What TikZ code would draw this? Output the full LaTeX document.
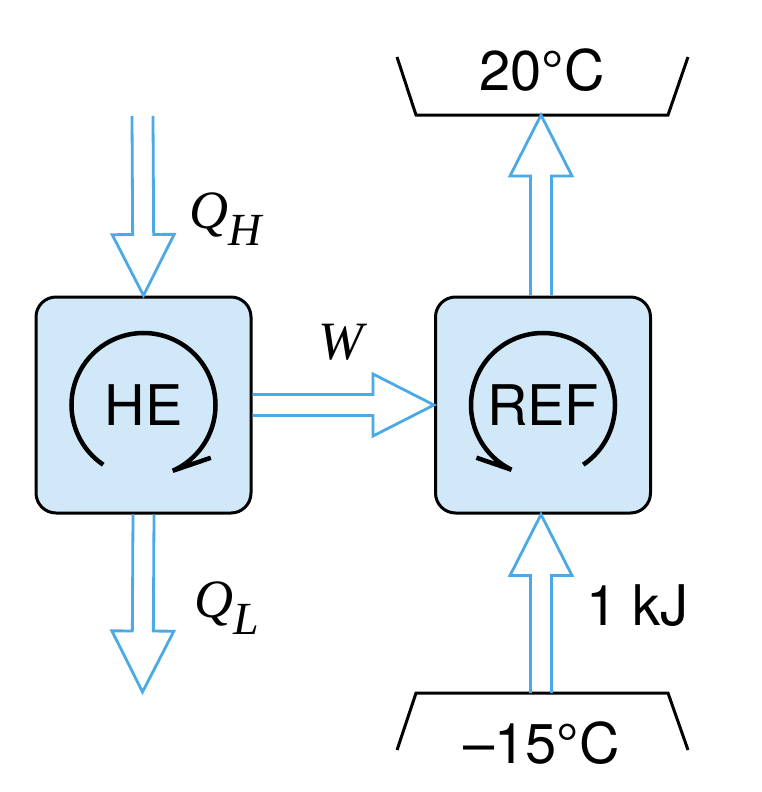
\documentclass[tikz,border=0pt]{standalone}
\usepackage{fontspec}
\setsansfont{TeX Gyre Heros}
\newfontfamily\labelserif{Liberation Serif}
\usepackage{xcolor}
\usetikzlibrary{positioning,calc}

\definecolor{heatblue}{RGB}{75,169,230}
\definecolor{boxfill}{RGB}{208,232,248}

\tikzset{
  device/.style={draw=black, line width=3pt, fill=boxfill, rounded corners=20pt,
    minimum width=215pt, minimum height=216pt, inner sep=0pt,
    font=\sffamily\fontsize{56}{56}\selectfont},
  heatline/.style={draw=heatblue, line width=2.8pt, miter limit=10},
  cycleline/.style={line width=4.5pt},
  reservoir/.style={line width=3pt},
  temp/.style={font=\sffamily\fontsize{56}{56}\selectfont, inner sep=0pt},
  qlabel/.style={font=\labelserif\itshape\fontsize{54}{54}\selectfont, inner sep=0pt}
}

% hollow block arrow from #1 (open tail) to #2 (tip)
\newcommand{\heatarrow}[2]{%
  \coordinate (hb) at ($(#2)!61pt!(#1)$);
  \draw[heatline] ($(#1)!10.5pt!90:(#2)$) -- ($(hb)!10.5pt!90:(#2)$)
    -- ($(hb)!31pt!90:(#2)$) -- (#2) -- ($(hb)!31pt!-90:(#2)$)
    -- ($(hb)!10.5pt!-90:(#2)$) -- ($(#1)!10.5pt!-90:(#2)$);
}

\begin{document}
\begin{tikzpicture}[x=1pt, y=-1pt]
    \useasboundingbox (0,0) rectangle (762,792);

    % Devices
    \node[device] (he) at (143.5,405) {HE};
    \node[device] (ref) at (543,405) {REF};

    % Cycle arrows
    \draw[cycleline] ([shift={(124:72)}]he.center) arc[start angle=124, end angle=426, radius=72] -- ++(38,-13);
    \draw[cycleline] ([shift={(56:72)}]ref.center) arc[start angle=56, end angle=-244, radius=72] -- ++(-35,-12);

    % Reservoirs
    \draw[reservoir] (397,57) -- (416,115) -- (668,115) -- (688,57);
    \draw[reservoir] (397,750) -- (416,693) -- (668,693) -- (688,750);
    \coordinate (hotbase) at (541,115);
    \coordinate (coldbase) at (541,693);
    \node[temp, anchor=base] (hot) at (542,90) {20°C};
    \node[temp, anchor=base] (cold) at (541.5,763) {–15°C};

    % Heat and work flows
    \coordinate (qhtail) at (142.5,116);
    \coordinate (qltip) at (142.5,692);
    \heatarrow{qhtail}{he.north}
    \heatarrow{he.south}{qltip}
    \heatarrow{he.east}{ref.west}
    \heatarrow{hotbase |- ref.north}{hotbase}
    \heatarrow{coldbase}{coldbase |- ref.south}

    % Labels
    \node[qlabel, anchor=base west] (qh) at (189,228) {Q\raisebox{-0.32em}{\fontsize{46}{46}\selectfont H}};
    \node[qlabel, anchor=base west] (ql) at (194,617) {Q\raisebox{-0.32em}{\fontsize{46}{46}\selectfont L}};
    \node[qlabel, anchor=base] (w) at (341,359) {W};
    \node[temp, anchor=base west] (kj) at (586,625) {1 kJ};
\end{tikzpicture}
\end{document}
